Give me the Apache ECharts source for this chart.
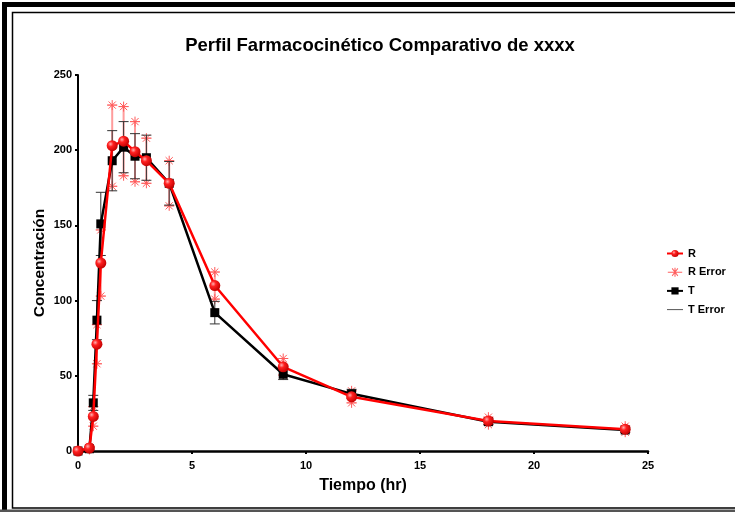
<!DOCTYPE html>
<html>
<head>
<meta charset="utf-8">
<script src="https://cdn.jsdelivr.net/npm/echarts@6/dist/echarts.min.js"></script>
<style>html,body{margin:0;padding:0;background:#fff;}#c{width:735px;height:512px;}</style>
</head>
<body>
<div id="c"></div>
<script>
const time = [0, 0.5, 0.67, 0.83, 1, 1.5, 2, 2.5, 3, 4, 6, 9, 12, 18, 24];
const R = [0, 2, 23, 71, 125, 203, 206, 199, 193, 178, 110, 56, 36, 20, 14.5];
const R_sd = [0, 1, 6.5, 13, 22, 27, 23, 20, 15, 15, 9, 5.5, 4, 2.5, 2];
const T = [0, 1.5, 32, 87, 151, 193, 202, 196, 195, 178, 92, 51, 38, 19.5, 14];
const T_sd = [0, 1, 5, 13, 21, 20, 17, 15, 15, 14.5, 7.5, 3.5, 3, 2, 1.5];
const xTicks = [0, 5, 10, 15, 20, 25];
const yTicks = [0, 50, 100, 150, 200, 250];

const FONT = '"Liberation Sans", Arial, sans-serif';
const chart = echarts.init(document.getElementById('c'), null, {renderer: 'canvas'});

const rLine = time.map((t, i) => [t, R[i]]);
const tLine = time.map((t, i) => [t, T[i]]);
const rErr = time.map((t, i) => [t, R[i] - R_sd[i], R[i] + R_sd[i]]);
const tErr = time.map((t, i) => [t, T[i] - T_sd[i], T[i] + T_sd[i]]);

function star(cx, cy, r, color) {
  const d = r * 0.72;
  const segs = [[-r, 0, r, 0], [0, -r, 0, r], [-d, -d, d, d], [-d, d, d, -d]];
  return segs.map(s => ({
    type: 'line',
    shape: {x1: cx + s[0], y1: cy + s[1], x2: cx + s[2], y2: cy + s[3]},
    style: {stroke: color, lineWidth: 1}
  }));
}

function renderR(params, api) {
  const x = api.value(0);
  const lo = api.coord([x, api.value(1)]);
  const hi = api.coord([x, api.value(2)]);
  const ch = [
    {type: 'line', shape: {x1: lo[0], y1: lo[1], x2: hi[0], y2: hi[1]}, style: {stroke: 'rgba(255,90,90,0.6)', lineWidth: 2}},
    {type: 'line', shape: {x1: lo[0] - 5, y1: lo[1], x2: lo[0] + 5, y2: lo[1]}, style: {stroke: 'rgba(255,90,90,0.7)', lineWidth: 1}},
    {type: 'line', shape: {x1: hi[0] - 5, y1: hi[1], x2: hi[0] + 5, y2: hi[1]}, style: {stroke: 'rgba(255,90,90,0.7)', lineWidth: 1}}
  ];
  return {type: 'group', children: ch.concat(star(lo[0], lo[1], 5, '#ff5a5a'), star(hi[0], hi[1], 5, '#ff5a5a'))};
}

function renderT(params, api) {
  const x = api.value(0);
  const lo = api.coord([x, api.value(1)]);
  const hi = api.coord([x, api.value(2)]);
  const st = {stroke: '#333', lineWidth: 1};
  return {type: 'group', children: [
    {type: 'line', shape: {x1: lo[0], y1: lo[1], x2: hi[0], y2: hi[1]}, style: st},
    {type: 'line', shape: {x1: lo[0] - 5, y1: lo[1], x2: lo[0] + 5, y2: lo[1]}, style: st},
    {type: 'line', shape: {x1: hi[0] - 5, y1: hi[1], x2: hi[0] + 5, y2: hi[1]}, style: st}
  ]};
}

const sphere = new echarts.graphic.RadialGradient(0.35, 0.35, 0.7, [
  {offset: 0, color: '#ffb0b0'},
  {offset: 0.35, color: '#ff2020'},
  {offset: 1, color: '#c00000'}
]);

const starIcon = 'path://M0,4.4L5,4.4L5,5.6L0,5.6Z M11,4.4L16,4.4L16,5.6L11,5.6Z M7.4,0L8.6,0L8.6,10L7.4,10Z M5,4.4L11,4.4L11,5.6L5,5.6Z M4.4,1.2L5.2,0.4L11.6,8.8L10.8,9.6Z M10.8,0.4L11.6,1.2L5.2,9.6L4.4,8.8Z';
const lineIcon = 'path://M0,4.5L16,4.5L16,5.5L0,5.5Z';

chart.setOption({
  animation: false,
  backgroundColor: '#fff',
  title: {
    text: 'Perfil Farmacocinético Comparativo de xxxx',
    left: 375, top: 31, textAlign: 'center',
    textStyle: {fontFamily: FONT, fontWeight: 'bold', fontSize: 18.5, color: '#000'}
  },
  legend: {
    orient: 'vertical', left: 661, top: 243, itemWidth: 16, itemHeight: 9, itemGap: 7.7,
    textStyle: {fontFamily: FONT, fontWeight: 'bold', fontSize: 11, color: '#000'},
    data: [
      {name: 'R'},
      {name: 'R Error', icon: starIcon, itemStyle: {color: '#ff6060'}},
      {name: 'T'},
      {name: 'T Error', icon: lineIcon, itemStyle: {color: '#555'}}
    ]
  },
  grid: {left: 78, right: 87, top: 75, bottom: 61, containLabel: false},
  xAxis: {
    type: 'value', min: 0, max: 25, interval: 5,
    name: 'Tiempo (hr)', nameLocation: 'middle', nameGap: 27, nameMoveOverlap: false,
    nameTextStyle: {fontFamily: FONT, fontWeight: 'bold', fontSize: 16, color: '#000'},
    axisLine: {show: true, lineStyle: {color: '#000', width: 2.5}},
    axisTick: {show: true, length: 3, lineStyle: {color: '#000', width: 2}},
    axisLabel: {fontFamily: FONT, fontWeight: 'bold', fontSize: 11, color: '#000', margin: 9,
      formatter: v => xTicks.includes(v) ? String(v) : ''},
    splitLine: {show: false}
  },
  yAxis: {
    type: 'value', min: 0, max: 250, interval: 50,
    name: 'Concentración', nameLocation: 'middle', nameGap: 30, nameRotate: 90, nameMoveOverlap: false,
    nameTextStyle: {fontFamily: FONT, fontWeight: 'bold', fontSize: 15.5, color: '#000'},
    axisLine: {show: true, lineStyle: {color: '#000', width: 2}},
    axisTick: {show: true, length: 3, lineStyle: {color: '#000', width: 2}},
    axisLabel: {fontFamily: FONT, fontWeight: 'bold', fontSize: 11, color: '#000', margin: 6,
      formatter: v => yTicks.includes(v) ? String(v) : ''},
    splitLine: {show: false}
  },
  series: [
    {name: 'R Error', type: 'custom', renderItem: renderR, data: rErr, z: 2,
      itemStyle: {color: '#ff6060'}, encode: {x: 0, y: [1, 2]}},
    {name: 'T Error', type: 'custom', renderItem: renderT, data: tErr, z: 3,
      itemStyle: {color: '#555'}, encode: {x: 0, y: [1, 2]}},
    {name: 'T', type: 'line', data: tLine, z: 4, symbol: 'rect', symbolSize: 9,
      lineStyle: {color: '#000', width: 2.5}, itemStyle: {color: '#000'}},
    {name: 'R', type: 'line', data: rLine, z: 5, symbol: 'circle', symbolSize: 11,
      lineStyle: {color: '#ff0000', width: 2.5}, itemStyle: {color: sphere, borderWidth: 0}}
  ],
  graphic: [
    {type: 'rect', shape: {x: 4.5, y: 4.5, width: 740, height: 520}, style: {fill: 'none', stroke: '#000', lineWidth: 5}, silent: true},
    {type: 'rect', shape: {x: 12.5, y: 12.5, width: 730, height: 495.5}, style: {fill: 'none', stroke: '#000', lineWidth: 1.5}, silent: true},
    {type: 'rect', shape: {x: 0, y: 509.5, width: 735, height: 3}, style: {fill: '#555'}, silent: true}
  ]
});
</script>
</body>
</html>
